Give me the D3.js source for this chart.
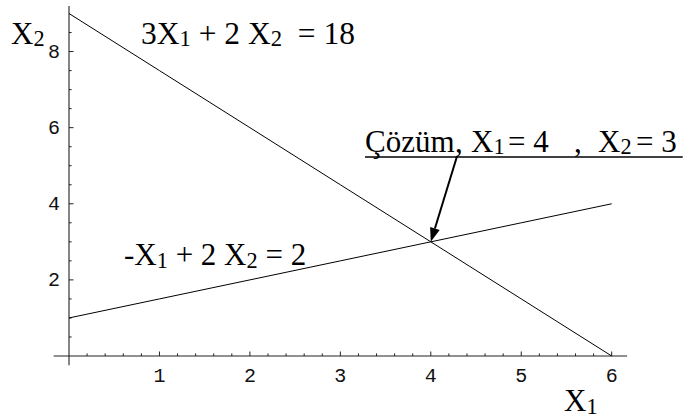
<!DOCTYPE html>
<html>
<head>
<meta charset="utf-8">
<script src="https://cdn.jsdelivr.net/npm/d3@7"></script>
<style>
  html, body { margin: 0; padding: 0; background: #fff; }
  svg { display: block; }
</style>
</head>
<body>
<svg id="chart" width="693" height="418"></svg>
<script>
// Constraint lines of the linear system
const xs = [0, 1, 2, 3, 4, 5, 6];
const lineA = [9, 7.5, 6, 4.5, 3, 1.5, 0];   // 3X1 + 2X2 = 18
const lineB = [1, 1.5, 2, 2.5, 3, 3.5, 4];   // -X1 + 2X2 = 2

// Solution point and tick values
const solution = [4, 3];
const xTickLabels = [1, 2, 3, 4, 5, 6];
const yTickLabels = [2, 4, 6, 8];

const serif = "'Liberation Serif', Tinos, 'Times New Roman', 'DejaVu Serif', serif";
const mono = "'Liberation Mono', Cousine, 'Courier New', 'DejaVu Sans Mono', monospace";

const svg = d3.select("#chart");

const x = d3.scaleLinear().domain([0, 6]).range([69, 611.7]);
const y = d3.scaleLinear().domain([0, 9]).range([356, 13.5]);

const axisColor = "#222";

// Axes lines
svg.append("line")
  .attr("x1", x(-0.17)).attr("x2", x(6.17))
  .attr("y1", y(0)).attr("y2", y(0))
  .attr("stroke", axisColor).attr("stroke-width", 1.1);
svg.append("line")
  .attr("x1", x(0)).attr("x2", x(0))
  .attr("y1", y(9.2)).attr("y2", y(-0.24))
  .attr("stroke", axisColor).attr("stroke-width", 1.1);

// X ticks: minor every 0.2, major every 1 (drawn upward)
const xMinor = d3.range(1, 31).map(i => i / 5);
svg.append("g").selectAll("line").data(xMinor).join("line")
  .attr("x1", d => x(d)).attr("x2", d => x(d))
  .attr("y1", y(0))
  .attr("y2", d => y(0) - (Math.abs(d - Math.round(d)) < 1e-9 ? 4.5 : 2.6))
  .attr("stroke", axisColor).attr("stroke-width", 1);

svg.append("g").selectAll("text").data(xTickLabels).join("text")
  .attr("font-family", mono)
  .attr("fill", "#111")
  .attr("x", d => x(d)).attr("y", y(0) + 26)
  .attr("text-anchor", "middle")
  .attr("font-size", 20)
  .text(d => d);

// Y ticks: minor every 0.5, major every 2 (drawn to the right)
const yMinor = d3.range(1, 18).map(i => i / 2);
svg.append("g").selectAll("line").data(yMinor).join("line")
  .attr("y1", d => y(d)).attr("y2", d => y(d))
  .attr("x1", x(0))
  .attr("x2", d => x(0) + (d % 2 === 0 ? 4.5 : 2.6))
  .attr("stroke", axisColor).attr("stroke-width", 1);

svg.append("g").selectAll("text").data(yTickLabels).join("text")
  .attr("font-family", mono)
  .attr("fill", "#111")
  .attr("x", x(0) - 9).attr("y", d => y(d) + 6)
  .attr("text-anchor", "end")
  .attr("font-size", 20)
  .text(d => d);

// Constraint lines
const line = d3.line().x(d => x(d[0])).y(d => y(d[1]));
[lineA, lineB].forEach(vals => {
  svg.append("path")
    .datum(xs.map((v, i) => [v, vals[i]]))
    .attr("d", line)
    .attr("fill", "none")
    .attr("stroke", "#000")
    .attr("stroke-width", 1);
});

// Text with subscripts: parts are [string, isSubscript, optional x]
function richText(px, py, parts, size) {
  const t = svg.append("text")
    .attr("font-family", serif)
    .attr("fill", "#000")
    .attr("xml:space", "preserve")
    .style("white-space", "pre")
    .attr("x", px).attr("y", py).attr("font-size", size);
  const drop = 2.5;
  parts.forEach(([s, sub, at]) => {
    const ts = t.append("tspan").text(s)
      .attr("y", sub ? py + drop : py);
    if (at !== undefined) ts.attr("x", at);
    if (sub) ts.attr("font-size", size * 0.72);
  });
  return t;
}

richText(11, 43.5, [["X", 0], ["2", 1]], 31);
richText(141, 43.5, [["3X", 0], ["1", 1], [" + 2 X", 0], ["2", 1], ["  = 18", 0]], 31.5);
richText(124, 265, [["-X", 0], ["1", 1], [" + 2 X", 0], ["2", 1], [" = 2", 0]], 31);
richText(564, 411, [["X", 0], ["1", 1]], 31);
const sol = richText(365, 151.5, [
  ["Çözüm", 0], [",", 0, 455], ["X", 0, 471], ["1", 1], ["= 4", 0, 508],
  [",", 0, 574], ["X", 0, 598], ["2", 1], ["= 3", 0, 636]
], 31);

// Underline spanning the solution label
const bb = sol.node().getBBox();
svg.append("line")
  .attr("x1", bb.x).attr("x2", bb.x + bb.width + 6)
  .attr("y1", 157).attr("y2", 157)
  .attr("stroke", "#000").attr("stroke-width", 1.6);

// Arrow pointing at the solution
const tail = [4.29, 5.25];
const tip = solution;
const tx = x(tail[0]), ty = y(tail[1]), hx = x(tip[0]), hy = y(tip[1]);
const ang = Math.atan2(hy - ty, hx - tx);
const headLen = 14, headHalf = 5;
const bx = hx - headLen * Math.cos(ang), by = hy - headLen * Math.sin(ang);
svg.append("line")
  .attr("x1", tx).attr("y1", ty).attr("x2", bx).attr("y2", by)
  .attr("stroke", "#000").attr("stroke-width", 2);
svg.append("path")
  .attr("d", d3.line()([
    [hx, hy],
    [bx + headHalf * Math.sin(ang), by - headHalf * Math.cos(ang)],
    [bx - headHalf * Math.sin(ang), by + headHalf * Math.cos(ang)]
  ]) + "Z")
  .attr("fill", "#000");
</script>
</body>
</html>
